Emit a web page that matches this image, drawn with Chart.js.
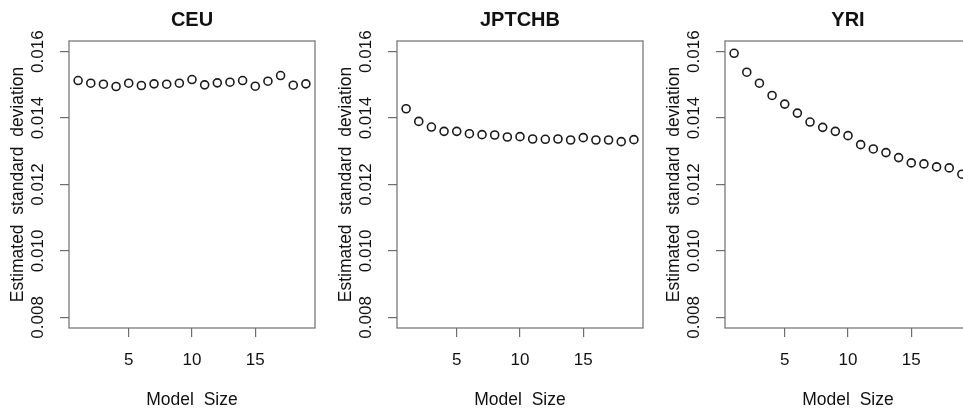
<!DOCTYPE html>
<html>
<head>
<meta charset="utf-8">
<script src="https://cdn.jsdelivr.net/npm/chart.js@4.4.0/dist/chart.umd.min.js"></script>
<style>
  html, body { margin: 0; padding: 0; background: #fff; overflow: hidden; width: 963px; height: 411px; }
  .panel { position: absolute; top: 0; width: 328px; height: 411px; }
</style>
</head>
<body>
<div class="panel" style="left:0px"><canvas id="p1" width="328" height="411"></canvas></div>
<div class="panel" style="left:328px"><canvas id="p2" width="328" height="411"></canvas></div>
<div class="panel" style="left:656px"><canvas id="p3" width="328" height="411"></canvas></div>
<script>
const modelSize = [1, 2, 3, 4, 5, 6, 7, 8, 9, 10, 11, 12, 13, 14, 15, 16, 17, 18, 19];
const ceuSd = [0.01513, 0.01505, 0.01502, 0.01495, 0.01505, 0.01498, 0.01503, 0.01502, 0.01505, 0.01516,
  0.01500, 0.01506, 0.01508, 0.01513, 0.01496, 0.01511, 0.01528, 0.01499, 0.01503];
const jptchbSd = [0.01428, 0.01390, 0.01373, 0.01360, 0.01360, 0.01353, 0.01350, 0.01349, 0.01343, 0.01344,
  0.01337, 0.01336, 0.01337, 0.01334, 0.01341, 0.01334, 0.01334, 0.01329, 0.01335];
const yriSd = [0.01595, 0.01538, 0.01505, 0.01468, 0.01442, 0.01415, 0.01388, 0.01372, 0.01360, 0.01347,
  0.01320, 0.01307, 0.01296, 0.01281, 0.01265, 0.01262, 0.01253, 0.01250, 0.01231];
const panelTitles = ['CEU', 'JPTCHB', 'YRI'];
const xTicks = [5, 10, 15];
const yTicks = [0.008, 0.010, 0.012, 0.014, 0.016];
const yTickLabels = ['0.008', '0.010', '0.012', '0.014', '0.016'];
const xTitle = 'Model  Size';
const yTitle = 'Estimated  standard  deviation';

const FONT = '"Liberation Sans", Arial, Helvetica, sans-serif';
const AXIS = '#6e6e6e';

// box, rotated y tick labels and the titles, like base R plot()
const rStyle = {
  id: 'rStyle',
  afterDraw(chart, args, opts) {
    const { ctx, chartArea: a } = chart;
    const y = chart.scales.y;
    ctx.save();
    ctx.strokeStyle = AXIS;
    ctx.lineWidth = 1.2;
    ctx.strokeRect(a.left, a.top, a.right - a.left, a.bottom - a.top);

    ctx.fillStyle = '#111';
    ctx.textAlign = 'center';
    ctx.textBaseline = 'middle';
    ctx.font = '17px ' + FONT;
    yTicks.forEach((v, i) => {
      ctx.save();
      ctx.translate(38, y.getPixelForValue(v));
      ctx.rotate(-Math.PI / 2);
      ctx.fillText(yTickLabels[i], 0, 0);
      ctx.restore();
    });

    ctx.font = '17.5px ' + FONT;
    ctx.fillText(xTitle, (a.left + a.right) / 2, 400);
    ctx.save();
    ctx.translate(18, (a.top + a.bottom) / 2);
    ctx.rotate(-Math.PI / 2);
    ctx.fillText(yTitle, 0, 0);
    ctx.restore();

    ctx.font = 'bold 20px ' + FONT;
    ctx.fillText(opts.title, (a.left + a.right) / 2, 20);
    ctx.restore();
  }
};

function makePanel(id, title, values) {
  new Chart(document.getElementById(id), {
    type: 'scatter',
    data: {
      datasets: [{
        data: modelSize.map((m, i) => ({ x: m, y: values[i] })),
        pointStyle: 'circle',
        pointRadius: 4,
        pointHoverRadius: 4,
        pointBorderWidth: 1.6,
        borderColor: '#1a1a1a',
        backgroundColor: 'rgba(0,0,0,0)'
      }]
    },
    options: {
      responsive: false,
      animation: false,
      events: [],
      layout: { padding: { left: 0, right: 13, top: 41, bottom: 0 } },
      plugins: { legend: { display: false }, tooltip: { enabled: false }, rStyle: { title: title } },
      scales: {
        x: {
          type: 'linear',
          min: 0.28,
          max: 19.72,
          afterBuildTicks: s => { s.ticks = xTicks.map(v => ({ value: v })); },
          afterFit: s => { s.height = 83; s.paddingLeft = 0; s.paddingRight = 0; },
          border: { display: false },
          grid: { drawOnChartArea: false, tickLength: 9, color: AXIS, lineWidth: 1.2 },
          ticks: { color: '#111', padding: 13, maxRotation: 0, font: { family: FONT, size: 17 } }
        },
        y: {
          type: 'linear',
          min: 0.00768,
          max: 0.01632,
          afterBuildTicks: s => { s.ticks = yTicks.map(v => ({ value: v })); },
          afterFit: s => { s.width = 69; s.paddingTop = 0; s.paddingBottom = 0; },
          border: { display: false },
          grid: { drawOnChartArea: false, tickLength: 9, color: AXIS, lineWidth: 1.2 },
          ticks: { display: false }
        }
      }
    },
    plugins: [rStyle]
  });
}

makePanel('p1', panelTitles[0], ceuSd);
makePanel('p2', panelTitles[1], jptchbSd);
makePanel('p3', panelTitles[2], yriSd);
</script>
</body>
</html>
